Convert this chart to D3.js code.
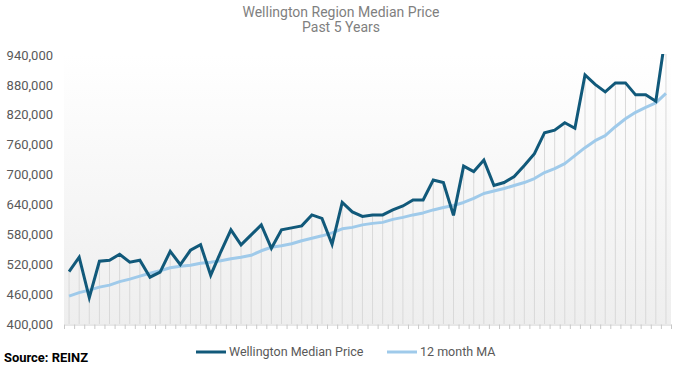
<!DOCTYPE html>
<html>
<head>
<meta charset="utf-8">
<script src="https://cdn.jsdelivr.net/npm/d3@7"></script>
<style>
  html, body { margin: 0; padding: 0; background: #fff; }
  svg { display: block; font-family: Roboto, "Open Sans", sans-serif; }
</style>
</head>
<body>
<svg id="chart" width="683" height="366"></svg>
<script>
// ---- data ----
const months = [
  "Dec-16","Jan-17","Feb-17","Mar-17","Apr-17","May-17","Jun-17","Jul-17","Aug-17","Sep-17","Oct-17","Nov-17",
  "Dec-17","Jan-18","Feb-18","Mar-18","Apr-18","May-18","Jun-18","Jul-18","Aug-18","Sep-18","Oct-18","Nov-18",
  "Dec-18","Jan-19","Feb-19","Mar-19","Apr-19","May-19","Jun-19","Jul-19","Aug-19","Sep-19","Oct-19","Nov-19",
  "Dec-19","Jan-20","Feb-20","Mar-20","Apr-20","May-20","Jun-20","Jul-20","Aug-20","Sep-20","Oct-20","Nov-20",
  "Dec-20","Jan-21","Feb-21","Mar-21","Apr-21","May-21","Jun-21","Jul-21","Aug-21","Sep-21","Oct-21","Nov-21"
];
const medianPrice = [
  505000,534000,453000,526000,528000,540000,524000,528000,494000,504000,546000,519000,
  548000,559000,498000,545000,589000,559000,579000,599000,552000,589000,593000,597000,
  619000,612000,560000,644000,625000,616000,619000,619000,629000,637000,649000,649000,
  689000,684000,618000,717000,706000,729000,678000,684000,696000,718000,742000,784000,
  789000,804000,793000,900000,881000,866000,884000,884000,860000,860000,847000,985000
];
const movingAvg = [
  456000,463000,468000,474000,478000,485000,490000,496000,502000,507000,513000,516000,
  518000,522000,524000,527000,531000,534000,538000,547000,554000,557000,561000,567000,
  572000,577000,583000,591000,594000,599000,602000,604000,610000,614000,619000,623000,
  629000,634000,638000,644000,652000,662000,667000,672000,678000,684000,692000,704000,
  712000,722000,738000,754000,768000,778000,796000,812000,825000,835000,844000,863000
];
const yTicks = [400000,460000,520000,580000,640000,700000,760000,820000,880000,940000];
const seriesNames = ["Wellington Median Price","12 month MA"];
const titleLines = ["Wellington Region Median Price","Past 5 Years"];
const sourceText = "Source: REINZ";

// ---- layout ----
const svg = d3.select("#chart");
const plot = {left: 64, right: 671, top: 55, bottom: 324};
const darkColor = "#11597a";
const lightColor = "#9fcaea";

const x = d3.scaleBand().domain(months).range([plot.left, plot.right]).padding(0);
const y = d3.scaleLinear().domain([400000, 940000]).range([plot.bottom, plot.top]);
const cx = m => x(m) + x.bandwidth() / 2;

// background gradient
const defs = svg.append("defs");
const grad = defs.append("linearGradient").attr("id","bg").attr("x1",0).attr("y1",0).attr("x2",0).attr("y2",1);
grad.append("stop").attr("offset","0%").attr("stop-color","#ffffff");
grad.append("stop").attr("offset","100%").attr("stop-color","#eeeeee");
defs.append("clipPath").attr("id","clip").append("rect")
  .attr("x", plot.left).attr("y", plot.top - 1)
  .attr("width", plot.right - plot.left).attr("height", plot.bottom - plot.top + 1);

svg.append("rect").attr("x", plot.left).attr("y", plot.top)
  .attr("width", plot.right - plot.left).attr("height", plot.bottom - plot.top)
  .attr("fill", "url(#bg)");

// title
svg.append("g").selectAll("text").data(titleLines).join("text")
  .attr("x", 341).attr("y", (d, i) => 17 + i * 15)
  .attr("text-anchor", "middle").attr("font-size", 14).attr("fill", "#7f7f7f")
  .text(d => d);

// y axis labels
const yAxis = d3.axisLeft(y).tickValues(yTicks).tickFormat(d3.format(",")).tickSize(0).tickPadding(11);
const yg = svg.append("g").attr("transform", `translate(${plot.left},0)`).call(yAxis);
yg.select(".domain").remove();
yg.selectAll("text").attr("font-size", 13).attr("fill", "#595959").attr("font-family", "Roboto, sans-serif");

const g = svg.append("g").attr("clip-path", "url(#clip)");

// drop lines
g.append("g").selectAll("line").data(months).join("line")
  .attr("x1", d => cx(d)).attr("x2", d => cx(d))
  .attr("y1", (d, i) => y(Math.max(medianPrice[i], movingAvg[i])))
  .attr("y2", plot.bottom)
  .attr("stroke", "#d9d9d9").attr("stroke-width", 1);

// x axis baseline + ticks between categories
const xAxis = d3.axisBottom(x).tickSize(0).tickFormat("");
const xg = svg.append("g").attr("transform", `translate(0,${plot.bottom + 0.5})`).call(xAxis);
xg.select(".domain").attr("stroke", "#d0d0d0");
xg.selectAll(".tick").remove();
const boundaries = months.map(m => x(m)).concat([plot.right]);
svg.append("g").selectAll("line").data(boundaries).join("line")
  .attr("x1", d => d + 0.5).attr("x2", d => d + 0.5)
  .attr("y1", plot.bottom + 0.5).attr("y2", plot.bottom + 5)
  .attr("stroke", "#c8c8c8").attr("stroke-width", 1);

// lines
const line = d3.line().x((d, i) => cx(months[i])).y(d => y(d));
g.append("path").datum(movingAvg).attr("d", line)
  .attr("fill", "none").attr("stroke", lightColor).attr("stroke-width", 3).attr("stroke-linejoin", "round");
g.append("path").datum(medianPrice).attr("d", line)
  .attr("fill", "none").attr("stroke", darkColor).attr("stroke-width", 3).attr("stroke-linejoin", "miter");

// legend
const legendItems = [
  {name: seriesNames[0], color: darkColor, x: 196},
  {name: seriesNames[1], color: lightColor, x: 387}
];
const lg = svg.append("g");
legendItems.forEach(it => {
  lg.append("line").attr("x1", it.x).attr("x2", it.x + 30).attr("y1", 352).attr("y2", 352)
    .attr("stroke", it.color).attr("stroke-width", 3);
  lg.append("text").attr("x", it.x + 33).attr("y", 352).attr("dy", "0.35em")
    .attr("font-size", 12.5).attr("fill", "#595959").text(it.name);
});

// source
svg.append("text").attr("x", 4).attr("y", 362)
  .attr("font-size", 13.5).attr("font-weight", "bold").attr("fill", "#000")
  .attr("textLength", 84).attr("lengthAdjust", "spacingAndGlyphs").text(sourceText);
</script>
</body>
</html>
